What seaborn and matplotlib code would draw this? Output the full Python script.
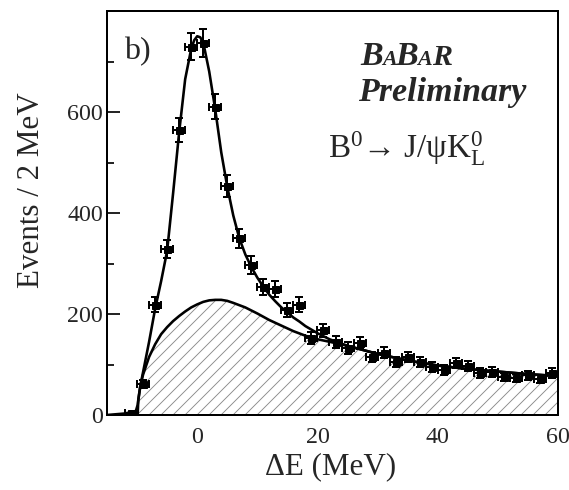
import numpy as np
import pandas as pd
import matplotlib
matplotlib.use("Agg")
import matplotlib.pyplot as plt
import seaborn as sns

# ---- data ----
bin_centers = [-11, -9, -7, -5, -3, -1, 1, 3, 5, 7, 9, 11, 13, 15, 17, 19, 21, 23, 25, 27,
               29, 31, 33, 35, 37, 39, 41, 43, 45, 47, 49, 51, 53, 55, 57, 59]
events = [3, 62, 218, 329, 564, 729, 737, 610, 453, 350, 297, 253, 250, 208, 218, 152, 168, 145, 133, 143,
          115, 123, 105, 115, 105, 95, 89, 103, 97, 83, 85, 75, 73, 79, 71, 83]

fit_x = [-15, -12, -10.2, -9.9, -9.5, -9, -8, -7, -6, -5, -4, -3, -2, -1, -0.5, 0, 0.5, 1, 2, 3, 4, 5,
         6, 7, 8, 9, 10, 11, 12, 13, 14, 15, 16, 17, 18, 19, 20, 22, 25, 30, 35, 40, 45, 50, 55, 60]
fit_total = [0, 3, 8, 20, 55, 85, 145, 210, 265, 325, 440, 560, 665, 725, 742, 750, 748, 738, 680, 605, 520, 452,
             395, 350, 318, 293, 272, 254, 238, 225, 213, 203, 193, 185, 176, 169, 162, 150, 137, 121, 108, 98, 91, 86, 81, 77]

bkg_x = [-9.9, -9.8, -9.4, -9, -8, -7, -6, -5, -4, -3, -2, -1, 0, 1, 2, 3, 4, 5, 6, 8, 10, 12, 14,
         16, 18, 20, 22, 25, 30, 35, 40, 45, 50, 55, 60]
bkg_y = [0, 30, 61, 80, 115, 140, 160, 174, 186, 196, 205, 213, 219, 224, 227, 228, 228, 226, 222, 213, 201, 188, 177,
         166, 157, 150, 145, 137, 121, 108, 98, 91, 86, 81, 77]

x_ticks = [0, 20, 40, 60]
y_ticks = [0, 200, 400, 600]

# ---- style ----
sns.set_style("ticks")
plt.rcParams["font.family"] = ["Liberation Serif", "DejaVu Serif"]
plt.rcParams["mathtext.fontset"] = "custom"
plt.rcParams["mathtext.rm"] = "Liberation Serif"
plt.rcParams["mathtext.it"] = "Liberation Serif:italic"
plt.rcParams["mathtext.bf"] = "Liberation Serif:bold"
plt.rcParams["hatch.linewidth"] = 0.9

W, H, DPI = 569, 490, 72
fig = plt.figure(figsize=(W / DPI, H / DPI), dpi=DPI)
fig.patch.set_facecolor("white")
L, R, T, B = 107, 558, 11, 415
ax = fig.add_axes([L / W, (H - B) / H, (R - L) / W, (B - T) / H])
ax.set_facecolor("white")

# background (hatched)
ax.fill_between(bkg_x, 0, bkg_y, facecolor="white", edgecolor="#8a8a8a", hatch="//", linewidth=0, zorder=1)

df_bkg = pd.DataFrame({"x": bkg_x, "y": bkg_y})
df_tot = pd.DataFrame({"x": fit_x, "y": fit_total})
sns.lineplot(data=df_bkg, x="x", y="y", ax=ax, color="black", linewidth=2.6, zorder=3, sort=False)
sns.lineplot(data=df_tot, x="x", y="y", ax=ax, color="black", linewidth=2.6, zorder=3, sort=False)

# data points with error bars
ev = np.array(events, dtype=float)
ax.errorbar(bin_centers, ev, xerr=1.0, yerr=np.sqrt(ev), fmt="s", color="black",
            markersize=7, elinewidth=2, capsize=4, capthick=2, zorder=4)

ax.set_xlim(-15, 60)
ax.set_ylim(0, 800)
ax.set_xticks(x_ticks)
ax.set_yticks(y_ticks)
ax.set_xticks([-10, 10, 30, 50], minor=True)
ax.set_yticks([100, 300, 500, 700], minor=True)
ax.tick_params(axis="both", which="major", direction="in", length=13, width=2, labelsize=24)
ax.tick_params(axis="both", which="minor", direction="in", length=7, width=2)
ax.tick_params(axis="x", which="both", pad=12)
ax.tick_params(axis="y", which="both", pad=4)
ax.tick_params(top=False, right=False, which="both")
for s in ax.spines.values():
    s.set_linewidth(2)
    s.set_color("black")
    s.set_visible(True)

ax.set_xlabel("ΔE (MeV)", fontsize=31)
ax.set_ylabel("Events / 2 MeV", fontsize=31)
ax.xaxis.set_label_coords((331 - L) / (R - L), (B - 452) / (B - T))
ax.yaxis.set_label_coords((46 - L) / (R - L), (B - 190) / (B - T))


def ax_frac(px, py):
    return (px - L) / (R - L), (B - py) / (B - T)


ax.text(*ax_frac(124, 52), "b)", fontsize=32, va="center", ha="left", transform=ax.transAxes)

# BABAR logo
logo = [("B", 360, 34), ("A", 382, 22), ("B", 395, 34), ("A", 417, 22), ("R", 432, 30)]
for ch, px, fs in logo:
    ax.text(*ax_frac(px, 65), ch, fontsize=fs, fontweight="bold", fontstyle="italic",
            va="baseline", ha="left", transform=ax.transAxes)
ax.text(*ax_frac(358, 101), "Preliminary", fontsize=34, fontweight="bold", fontstyle="italic",
        va="baseline", ha="left", transform=ax.transAxes)
ax.text(*ax_frac(328, 158), r"B$^{0}$→ J/ψK$^{0}_{\mathrm{L}}$", fontsize=33,
        va="baseline", ha="left", transform=ax.transAxes)

fig.savefig("out.png", dpi=DPI, facecolor="white")
